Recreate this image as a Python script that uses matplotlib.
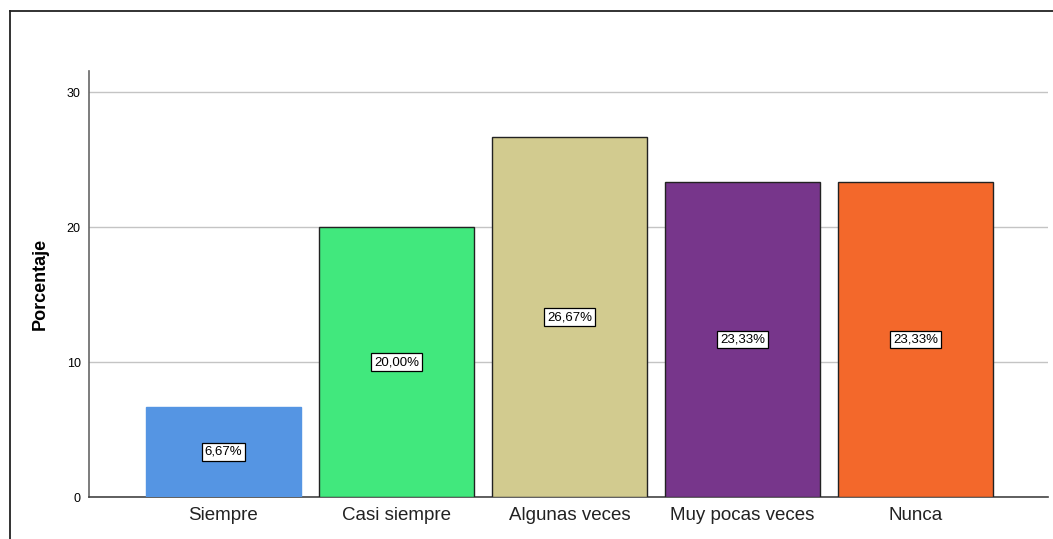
import matplotlib
matplotlib.use("Agg")
import matplotlib.pyplot as plt
from matplotlib.lines import Line2D

categories = ["Siempre", "Casi siempre", "Algunas veces", "Muy pocas veces", "Nunca"]
values = [6.67, 20.00, 26.67, 23.33, 23.33]
labels = ["6,67%", "20,00%", "26,67%", "23,33%", "23,33%"]
colors = ["#5595e3", "#41e87d", "#d2cb8f", "#77368b", "#f3682b"]
edges = ["#5595e3", "#222222", "#222222", "#222222", "#222222"]
yticks = [0, 10, 20, 30]

plt.rcParams['font.family'] = ['Liberation Sans', 'DejaVu Sans']

W, H = 1053, 539
fig = plt.figure(figsize=(W / 100, H / 100), dpi=100)
ax = fig.add_axes([89 / W, 1 - 497 / H, (1048 - 89) / W, (497 - 71) / H])

x = list(range(len(categories)))
ax.bar(x, values, width=0.896, color=colors, edgecolor=edges, linewidth=1.0, zorder=3)
for xi, v, lab in zip(x, values, labels):
    ax.text(xi, v / 2, lab, ha='center', va='center', fontsize=9.5, zorder=4,
            bbox=dict(boxstyle='square,pad=0.2', fc='white', ec='black', lw=0.9))

ax.set_xlim(-0.777, 4.766)
ax.set_ylim(0, 31.56)
ax.set_yticks(yticks)
ax.set_yticklabels([str(t) for t in yticks], fontsize=9)
ax.set_xticks(x)
ax.set_xticklabels(categories, fontsize=13.5, color='#222222')
ax.tick_params(axis='both', length=0)
ax.tick_params(axis='y', pad=6)
ax.tick_params(axis='x', pad=7)
ax.yaxis.grid(True, color='#c4c4c4', linewidth=1.0, zorder=0)
ax.set_axisbelow(True)
for s in ['top', 'right']:
    ax.spines[s].set_visible(False)
ax.spines['left'].set_color('#666666')
ax.spines['bottom'].set_color('#444444')
ax.spines['left'].set_linewidth(1.2)
ax.spines['bottom'].set_linewidth(1.2)
ax.set_ylabel("Porcentaje", fontsize=13, fontweight='bold', labelpad=13)

# outer frame (top and left edges visible)
fig.add_artist(Line2D([9.5 / W, 1.0], [1 - 10.5 / H, 1 - 10.5 / H], color='#222222', lw=1.3, transform=fig.transFigure))
fig.add_artist(Line2D([9.5 / W, 9.5 / W], [0, 1 - 10.5 / H], color='#222222', lw=1.3, transform=fig.transFigure))

fig.savefig("out.png", dpi=100)
